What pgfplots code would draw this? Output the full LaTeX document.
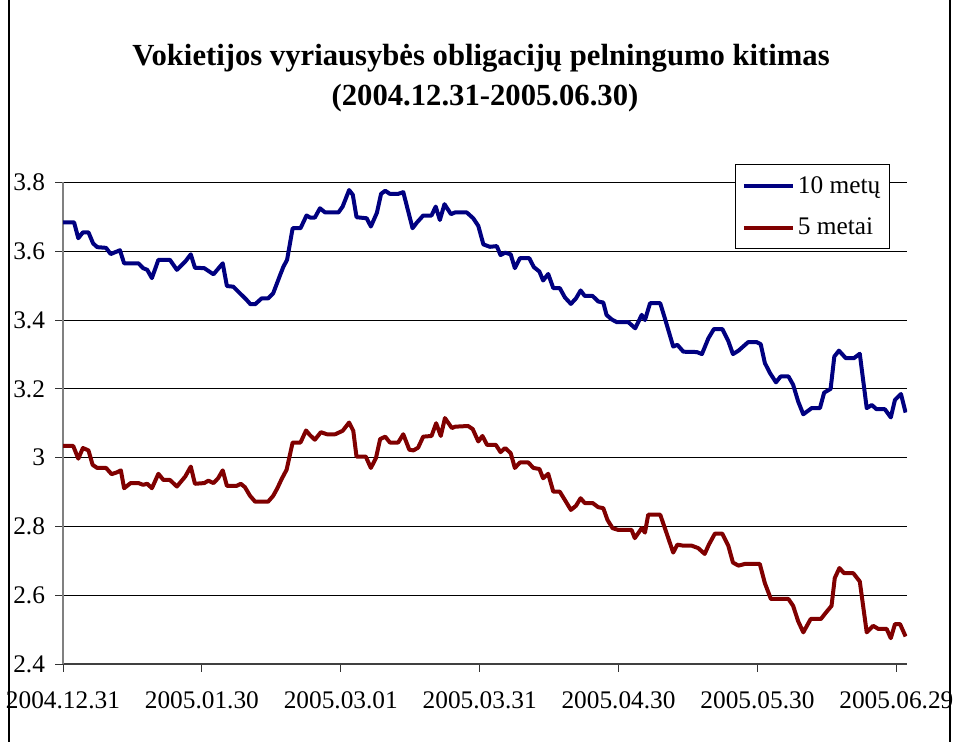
\documentclass[border=0pt]{standalone}
\usepackage{fontspec}
\setmainfont{Liberation Serif}
\usepackage{pgfplots}
\pgfplotsset{compat=1.18}
\definecolor{navyline}{RGB}{0,0,128}
\definecolor{redline}{RGB}{128,0,0}
\begin{document}
\begin{tikzpicture}[x=0.75pt,y=0.75pt]
\useasboundingbox (0,0) rectangle (954,742);
\fill[white] (0,0) rectangle (954,742);
\draw[black,line width=1.5pt] (9,760) -- (9,-20);
\draw[black,line width=1.5pt] (950,760) -- (950,-20);
\node[font=\fontsize{23}{26}\selectfont\bfseries] at (481,684) {Vokietijos vyriausybės obligacijų pelningumo kitimas};
\node[font=\fontsize{23}{26}\selectfont\bfseries] at (485,644) {(2004.12.31-2005.06.30)};
\begin{axis}[
  at={(47.25pt,58.5pt)}, anchor=south west,
  scale only axis, width=633pt, height=361.125pt,
  xmin=0, xmax=182.3, ymin=2.4, ymax=3.8,
  axis x line*=bottom, axis y line*=left,
  x axis line style={black!75, line width=0.8pt, -},
  y axis line style={black!50, line width=0.8pt, -},
  xtick={0,30,60,90,120,150,180},
  xticklabels={2004.12.31,2005.01.30,2005.03.01,2005.03.31,2005.04.30,2005.05.30,2005.06.29},
  ytick={2.4,2.6,2.8,3,3.2,3.4,3.6,3.8},
  yticklabels={2.4,2.6,2.8,3,3.2,3.4,3.6,3.8},
  tick align=outside, major tick length=6pt,
  tick style={black!80, line width=0.6pt},
  ymajorgrids, grid style={black, line width=0.7pt},
  tick label style={font=\fontsize{19}{21}\selectfont},
  xticklabel style={yshift=-11pt},
  yticklabel style={xshift=-4pt},
  /pgf/number format/assume math mode=true,
  legend style={at={(0.796,1.038)}, anchor=north west, draw=black, line width=0.6pt, fill=white,
    font=\fontsize{19}{21}\selectfont, row sep=13pt, inner xsep=5pt, inner ysep=7pt, legend cell align=left,
    /tikz/every even column/.append style={column sep=3pt}},
  legend image code/.code={\draw[#1, line width=3pt] (0pt,0pt) -- (37pt,0pt);},
  every axis plot/.append style={line width=3pt, line join=round},
]
\addplot[navyline] coordinates {
(0,3.684)(2.4,3.684)(3.3,3.638)(4.3,3.655)(5.5,3.655)(6.5,3.623)(7.4,3.612)(9.3,3.610)(10.3,3.592)(11.4,3.598)(12.3,3.603)(13.2,3.565)(16.3,3.565)(17.3,3.551)(18.2,3.546)(19.2,3.522)(20.6,3.575)(23.1,3.575)(24.6,3.546)(26.4,3.570)(27.6,3.591)(28.5,3.552)(30.5,3.551)(32.5,3.533)(34.5,3.565)(35.4,3.499)(36.8,3.497)(38.2,3.478)(39.5,3.461)(40.5,3.446)(41.5,3.446)(42.9,3.463)(44.3,3.463)(45.4,3.478)(46.9,3.531)(47.6,3.555)(48.4,3.575)(49.6,3.667)(51.3,3.667)(52.6,3.704)(53.4,3.698)(54.4,3.698)(55.5,3.725)(56.6,3.713)(59.5,3.713)(60.4,3.730)(61.8,3.778)(62.6,3.764)(63.4,3.699)(65.6,3.696)(66.5,3.672)(67.8,3.712)(68.7,3.767)(69.6,3.776)(70.6,3.767)(72.4,3.767)(73.5,3.772)(75.5,3.667)(76.4,3.683)(77.8,3.704)(79.6,3.704)(80.5,3.730)(81.4,3.691)(82.4,3.737)(83.8,3.708)(84.7,3.713)(87.2,3.713)(88.6,3.696)(89.7,3.674)(90.8,3.620)(92.2,3.613)(93.7,3.615)(94.5,3.589)(95.5,3.596)(96.7,3.591)(97.6,3.551)(98.7,3.580)(100.7,3.580)(101.7,3.554)(102.9,3.541)(103.7,3.515)(104.8,3.534)(105.9,3.493)(107.3,3.493)(108.4,3.466)(109.7,3.447)(110.8,3.463)(111.8,3.486)(112.7,3.470)(114.4,3.470)(115.6,3.454)(116.7,3.451)(117.4,3.415)(118.5,3.402)(119.6,3.394)(122.1,3.394)(123.6,3.376)(125.0,3.415)(125.7,3.400)(126.8,3.449)(129.0,3.449)(130.0,3.405)(131.8,3.323)(132.7,3.328)(134.0,3.308)(136.9,3.307)(138.0,3.301)(139.4,3.347)(140.6,3.374)(142.4,3.374)(143.7,3.339)(144.7,3.301)(145.9,3.311)(148.0,3.336)(149.8,3.336)(150.7,3.330)(151.6,3.275)(152.7,3.246)(154.0,3.219)(155.0,3.236)(156.7,3.236)(157.7,3.212)(158.8,3.163)(159.9,3.126)(161.7,3.144)(163.5,3.144)(164.4,3.189)(165.8,3.200)(166.6,3.294)(167.6,3.311)(169.1,3.289)(170.8,3.289)(172.1,3.302)(173.6,3.144)(174.7,3.153)(175.7,3.141)(177.5,3.141)(178.8,3.117)(179.7,3.168)(181.0,3.185)(182.0,3.131)
};
\addlegendentry{10 metų}
\addplot[redline] coordinates {
(0,3.034)(2.2,3.034)(3.3,2.997)(4.3,3.028)(5.5,3.021)(6.4,2.979)(7.4,2.970)(9.3,2.970)(10.5,2.952)(11.6,2.957)(12.5,2.963)(13.2,2.911)(14.6,2.926)(16.3,2.926)(17.3,2.921)(18.2,2.924)(19.2,2.911)(20.6,2.953)(21.7,2.935)(23.1,2.935)(24.6,2.916)(26.4,2.945)(27.6,2.974)(28.5,2.924)(30.5,2.926)(31.4,2.933)(32.5,2.926)(33.5,2.940)(34.5,2.963)(35.4,2.918)(37.5,2.918)(38.4,2.924)(39.3,2.914)(40.4,2.889)(41.5,2.872)(44.3,2.872)(45.4,2.889)(46.3,2.911)(47.2,2.937)(48.3,2.965)(49.6,3.044)(51.3,3.044)(52.5,3.079)(53.3,3.066)(54.4,3.052)(55.7,3.074)(57.0,3.068)(58.8,3.068)(60.4,3.078)(61.8,3.102)(62.7,3.078)(63.4,3.003)(65.4,3.003)(66.5,2.970)(67.6,2.999)(68.5,3.054)(69.6,3.061)(70.6,3.044)(72.4,3.044)(73.5,3.068)(74.8,3.023)(75.7,3.021)(76.7,3.029)(77.8,3.061)(79.6,3.063)(80.6,3.100)(81.6,3.063)(82.5,3.115)(84.0,3.086)(84.7,3.090)(87.5,3.092)(88.5,3.083)(89.7,3.047)(90.6,3.063)(91.6,3.037)(93.5,3.037)(94.5,3.016)(95.5,3.028)(96.7,3.013)(97.6,2.970)(98.7,2.986)(100.5,2.986)(101.6,2.970)(102.9,2.967)(103.7,2.940)(104.8,2.953)(105.9,2.901)(107.3,2.901)(108.4,2.877)(109.7,2.848)(110.8,2.860)(111.8,2.882)(112.7,2.868)(114.4,2.868)(115.6,2.856)(116.7,2.853)(117.6,2.819)(118.7,2.795)(119.9,2.790)(122.8,2.790)(123.5,2.766)(125.0,2.795)(125.7,2.782)(126.4,2.834)(129.0,2.834)(130.0,2.795)(131.8,2.724)(132.7,2.747)(134.0,2.744)(135.8,2.744)(137.2,2.737)(138.6,2.720)(139.5,2.747)(140.8,2.779)(142.4,2.779)(143.7,2.744)(144.7,2.695)(145.9,2.686)(147.3,2.691)(150.5,2.691)(151.6,2.635)(152.9,2.589)(156.7,2.589)(157.7,2.569)(158.8,2.524)(159.9,2.492)(161.5,2.531)(163.7,2.531)(165.0,2.553)(166.0,2.569)(166.7,2.650)(167.7,2.679)(168.7,2.664)(170.7,2.664)(172.1,2.640)(173.6,2.492)(175.0,2.511)(176.1,2.502)(177.9,2.502)(178.8,2.475)(179.7,2.516)(180.8,2.516)(182.0,2.480)
};
\addlegendentry{5 metai}
\end{axis}
\end{tikzpicture}
\end{document}
